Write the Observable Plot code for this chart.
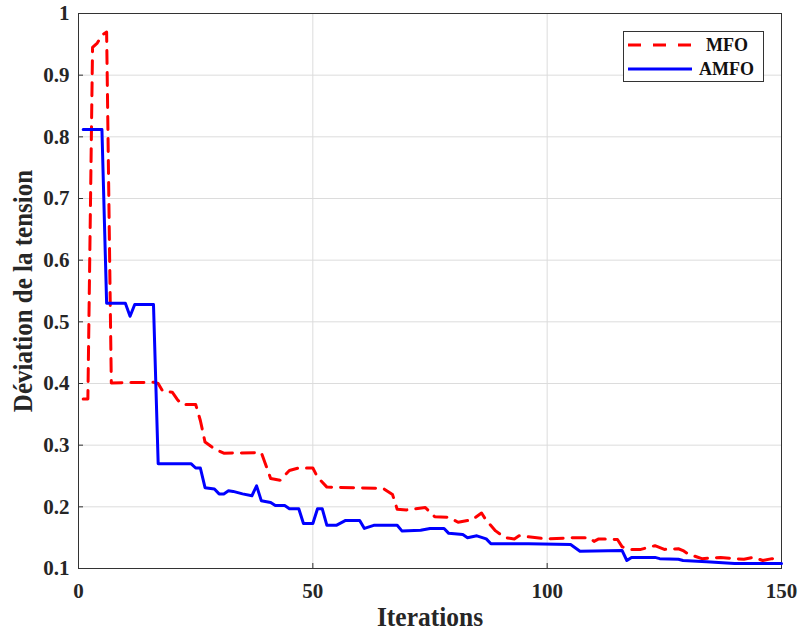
<!DOCTYPE html>
<html>
<head>
<meta charset="utf-8">
<script src="https://cdn.jsdelivr.net/npm/d3@7"></script>
<script src="https://cdn.jsdelivr.net/npm/@observablehq/plot@0.6"></script>
<style>
  html, body { margin: 0; padding: 0; background: #fff; }
  #wrap { position: relative; width: 799px; height: 635px; }
  #wrap > svg text { font-family: "Liberation Serif", "Times New Roman", serif !important; font-weight: bold; }
  #legend {
    position: absolute; left: 623px; top: 31px; width: 141px; height: 51px;
    border: 1px solid #333; background: #fff; box-sizing: border-box;
    font-family: "Liberation Serif", "Times New Roman", serif; font-weight: bold; font-size: 18px; color: #111;
  }
  #legend .sw { position: absolute; left: 4px; }
  #legend .sw svg { display: block; }
  #legend .lab { position: absolute; line-height: 20px; }
</style>
</head>
<body>
<div id="wrap"></div>
<script>
// ---- data ----
const mfoIter = [1,2,3,4,5,6,7,16,17,18,20,21,22,25,26,27,29,31,39,41,43,45,47,50,51,53,65,67,68,70,74,76,79,81,84,86,87,89,91,93,94,100,106,109,110,111,115,116,118,120,123,125,128,129,130,133,137,140,142,144,146,148,150];
const mfoVal  = [0.375,0.375,0.945,0.952,0.965,0.970,0.401,0.402,0.400,0.387,0.386,0.375,0.366,0.366,0.340,0.305,0.294,0.287,0.288,0.246,0.243,0.259,0.263,0.263,0.248,0.232,0.230,0.220,0.196,0.195,0.199,0.184,0.183,0.175,0.179,0.190,0.178,0.161,0.150,0.148,0.153,0.148,0.150,0.150,0.144,0.148,0.147,0.135,0.131,0.131,0.137,0.131,0.132,0.129,0.124,0.116,0.118,0.116,0.115,0.118,0.113,0.116,0.115];

const amfoIter = [1,5,6,10,11,12,16,17,24,25,26,27,29,30,31,32,33,35,37,38,39,41,42,44,45,47,48,50,51,52,53,55,57,60,61,63,68,69,73,75,78,79,82,83,85,87,88,93,96,105,107,116,117,118,123,124,128,129,134,140,150];
const amfoVal  = [0.812,0.812,0.530,0.530,0.509,0.528,0.528,0.270,0.270,0.263,0.263,0.231,0.229,0.221,0.221,0.226,0.225,0.221,0.218,0.234,0.210,0.207,0.202,0.202,0.197,0.197,0.173,0.173,0.197,0.197,0.170,0.170,0.178,0.178,0.165,0.170,0.170,0.161,0.162,0.165,0.165,0.157,0.155,0.150,0.153,0.148,0.140,0.140,0.140,0.139,0.128,0.129,0.113,0.118,0.118,0.116,0.115,0.113,0.111,0.108,0.108];

const xTicks = [0, 50, 100, 150];
const yTicks = [0.1, 0.2, 0.3, 0.4, 0.5, 0.6, 0.7, 0.8, 0.9, 1];
const yTickLabels = ["0.1","0.2","0.3","0.4","0.5","0.6","0.7","0.8","0.9","1"];
const seriesNames = ["MFO", "AMFO"];
const xLabel = "Iterations";
const yLabel = "Déviation de la tension";

const mfo = mfoIter.map((x, i) => ({x, y: mfoVal[i]}));
const amfo = amfoIter.map((x, i) => ({x, y: amfoVal[i]}));

const RED = "#ff0000", BLUE = "#0000ff";
const FONT = "'Liberation Serif', 'Times New Roman', serif";

const chart = Plot.plot({
  width: 799,
  height: 635,
  marginLeft: 78,
  marginRight: 18,
  marginTop: 13,
  marginBottom: 67,
  style: { fontFamily: FONT, fontWeight: "bold", fontSize: "21px", color: "#262626", background: "#fff" },
  x: { domain: [0, 150] },
  y: { domain: [0.1, 1] },
  marks: [
    Plot.gridY(yTicks, { stroke: "#dcdcdc", strokeOpacity: 1 }),
    Plot.gridX(xTicks, { stroke: "#dcdcdc", strokeOpacity: 1 }),
    Plot.frame({ stroke: "#333", strokeWidth: 1 }),
    Plot.axisX(xTicks, { tickSize: -5, tickPadding: 20, label: null, stroke: "#333", fontSize: 21 }),
    Plot.axisY(yTicks, { tickSize: -5, tickPadding: 14, label: null, stroke: "#333", fontSize: 21,
      tickFormat: (d) => yTickLabels[yTicks.indexOf(d)] }),
    Plot.line(mfo, { x: "x", y: "y", stroke: RED, strokeWidth: 3, strokeDasharray: "13,9", curve: "linear" }),
    Plot.line(amfo, { x: "x", y: "y", stroke: BLUE, strokeWidth: 3, curve: "linear" }),
    Plot.text([xLabel], { frameAnchor: "bottom", lineAnchor: "middle", dy: 49, fontSize: 25.5, fontWeight: "bold", fill: "#262626", className: "xlab" }),
    Plot.text([yLabel], { frameAnchor: "left", textAnchor: "middle", lineAnchor: "middle", dx: -55, rotate: -90, fontSize: 25, fontWeight: "bold", fill: "#262626", className: "ylab" })
  ]
});

const wrap = document.getElementById("wrap");
wrap.appendChild(chart);

// stretch the axis titles across their line direction (as in the reference)
for (const [cls, k] of [["xlab", 1.1], ["ylab", 1.12]]) {
  chart.querySelectorAll(`.${cls} text`).forEach((t) => {
    const tr = t.getAttribute("transform") || "";
    t.setAttribute("transform", `${tr} scale(1,${k})`);
  });
}

// legend (HTML overlay inside the axes box, top-right)
const legend = document.createElement("div");
legend.id = "legend";
const rows = [
  { name: seriesNames[0], color: RED, dash: "13,12", top: 3, labLeft: 82 },
  { name: seriesNames[1], color: BLUE, dash: null, top: 27, labLeft: 75 }
];
for (const r of rows) {
  const sw = document.createElement("div");
  sw.className = "sw";
  sw.style.top = r.top + "px";
  const s = d3.create("svg").attr("width", 64).attr("height", 20);
  s.append("line").attr("x1", 0).attr("x2", 64).attr("y1", 10).attr("y2", 10)
    .attr("stroke", r.color).attr("stroke-width", 3).attr("stroke-dasharray", r.dash);
  sw.appendChild(s.node());
  legend.appendChild(sw);
  const t = document.createElement("div");
  t.className = "lab";
  t.style.top = r.top + "px";
  t.style.left = r.labLeft + "px";
  t.textContent = r.name;
  legend.appendChild(t);
}
wrap.appendChild(legend);
</script>
</body>
</html>
